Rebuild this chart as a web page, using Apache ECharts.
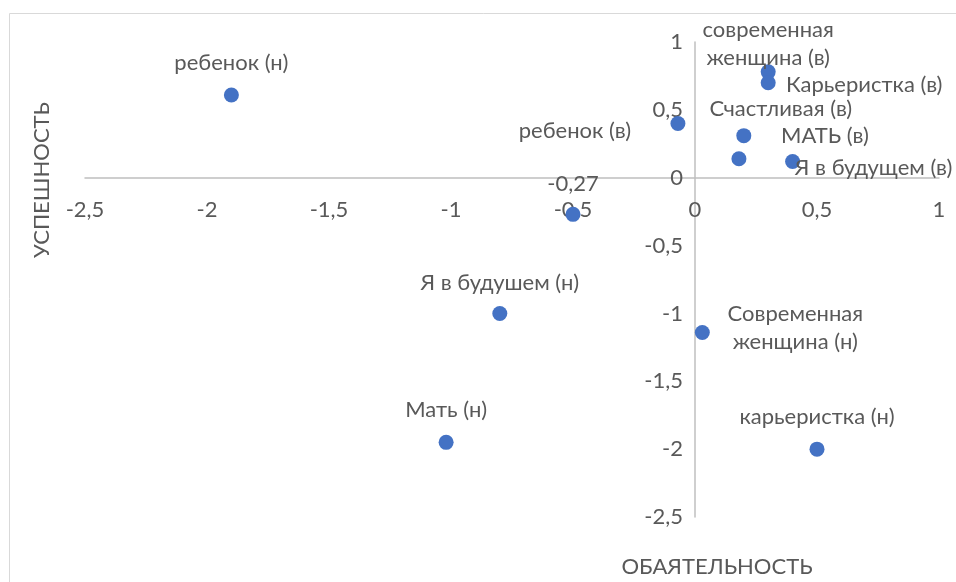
<!DOCTYPE html>
<html>
<head>
<meta charset="utf-8">
<script src="https://cdn.jsdelivr.net/npm/echarts@6/dist/echarts.min.js"></script>
<style>
  html, body { margin: 0; padding: 0; background: #fff; }
  #viz { width: 956px; height: 582px; }
</style>
</head>
<body>
<div id="viz"></div>
<script>
// point names (null -> show the y value)
const names = [
  'ребенок (н)', 'ребенок (в)', 'современная\nженщина (в)', 'Карьеристка (в)',
  'Счастливая (в)', 'МАТЬ (в)', 'Я в будущем (в)', null,
  'Я в будушем (н)', 'Современная\nженщина (н)', 'Мать (н)', 'карьеристка (н)'
]
const charm = [-1.9, -0.07, 0.3, 0.3, 0.2, 0.18, 0.4, -0.5, -0.8, 0.03, -1.02, 0.5]
const success = [0.61, 0.4, 0.78, 0.7, 0.31, 0.14, 0.12, -0.27, -1.0, -1.14, -1.95, -2.0]

// label placement, px offset from the point (manually moved in the original)
const labelOffsets = [
  [0, -32], [-103, 7], [0, -28], [96, 2],
  [37, -27], [86, -23], [81, 6], [0, -30],
  [0, -31], [93, -5], [0, -32], [0, -32]
]

const font = 'Lato, "Open Sans", sans-serif'
const grey = '#595959'
const fs = 22
const comma = (v) => String(v).replace('.', ',')

const W = 956, H = 582
const grid = { left: 85, right: 17, top: 42, bottom: 65 }
const axMin = -2.5, axMax = 1
// axes cross at zero: shift whole axis (line + labels) there
const plotW = W - grid.left - grid.right
const plotH = H - grid.top - grid.bottom
const xShift = -plotH * (0 - axMin) / (axMax - axMin)
const yShift = -plotW * (0 - axMin) / (axMax - axMin)

const myChart = echarts.init(document.getElementById('viz'))

myChart.setOption({
  animation: false,
  textStyle: { fontFamily: font },
  grid,
  graphic: [
    {
      type: 'rect', left: 7, top: 11, silent: true,
      shape: { width: 1000, height: 640 },
      style: { fill: 'none', stroke: '#d9d9d9', lineWidth: 1 },
    },
    {
      type: 'text', x: 42, y: 180, rotation: Math.PI / 2,
      style: {
        text: 'УСПЕШНОСТЬ', fill: grey, font: fs + 'px ' + font,
        align: 'center', verticalAlign: 'middle',
      },
    },
    {
      type: 'text', x: 717, y: 567,
      style: {
        text: 'ОБАЯТЕЛЬНОСТЬ', fill: grey, font: fs + 'px ' + font,
        align: 'center', verticalAlign: 'middle',
      },
    },
  ],
  xAxis: {
    type: 'value', min: axMin, max: axMax, interval: 0.5,
    offset: xShift,
    axisLine: { onZero: false, lineStyle: { color: '#bfbfbf', width: 1.5 } },
    axisTick: { show: false },
    splitLine: { show: false },
    axisLabel: { color: grey, fontSize: fs, margin: 21, formatter: comma },
  },
  yAxis: {
    type: 'value', min: axMin, max: axMax, interval: 0.5,
    offset: yShift,
    axisLine: { show: true, onZero: false, lineStyle: { color: '#bfbfbf', width: 1.5 } },
    axisTick: { show: false },
    splitLine: { show: false },
    axisLabel: { color: grey, fontSize: fs, margin: 12, formatter: comma },
  },
  series: [
    {
      type: 'scatter',
      symbolSize: 15,
      itemStyle: { color: '#4472c4', opacity: 1 },
      data: charm.map((x, i) => ({
        value: [x, success[i]],
        name: names[i] || '',
        label: {
          show: true,
          position: 'inside',
          offset: labelOffsets[i],
          formatter: names[i] ? names[i] : comma(success[i]),
          color: grey,
          fontSize: fs,
          lineHeight: 28,
          fontFamily: font,
        },
      })),
    },
  ],
})
</script>
</body>
</html>
